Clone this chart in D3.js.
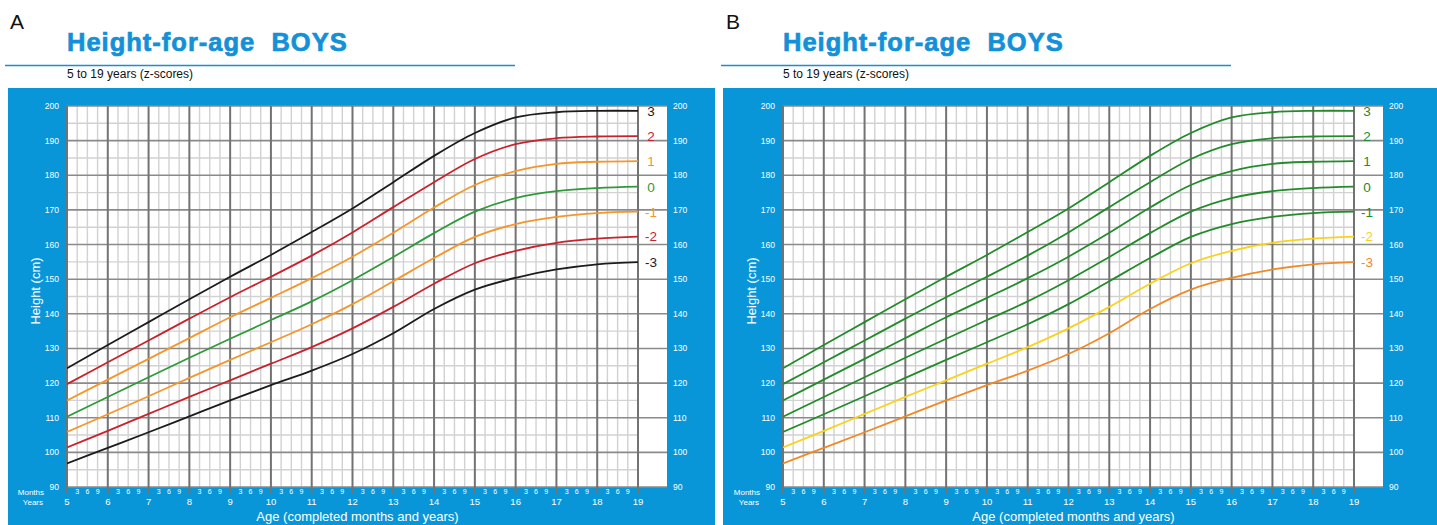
<!DOCTYPE html>
<html>
<head>
<meta charset="utf-8">
<script src="https://cdn.jsdelivr.net/npm/d3@7/dist/d3.min.js"></script>
<style>
  html, body { margin: 0; padding: 0; background: #ffffff; }
  svg { display: block; font-family: "Liberation Sans", Arial, Helvetica, sans-serif; }
  .title { white-space: pre; }
</style>
</head>
<body>
<svg id="chart" width="1437" height="525"></svg>
<script>
// WHO height-for-age, boys 5 to 19 years: height (cm) at each z-score curve
const ages = [5, 6, 7, 8, 9, 10, 11, 12, 13, 14, 15, 16, 17, 18, 19];
const zLabels = ["3", "2", "1", "0", "-1", "-2", "-3"];
const sdPlus3  = [124.3, 131.0, 137.6, 144.2, 150.7, 157.0, 163.6, 170.4, 178.0, 185.6, 192.2, 196.7, 198.2, 198.6, 198.6];
const sdPlus2  = [119.7, 126.0, 132.3, 138.6, 144.8, 150.7, 156.8, 163.5, 170.8, 178.0, 184.7, 189.0, 190.7, 191.2, 191.3];
const sdPlus1  = [115.0, 121.0, 127.0, 133.0, 139.0, 144.6, 150.3, 156.5, 163.4, 170.7, 177.2, 181.2, 183.3, 183.9, 184.1];
const median   = [110.3, 116.0, 121.7, 127.3, 132.8, 138.2, 143.6, 149.7, 156.4, 163.3, 169.5, 173.4, 175.4, 176.3, 176.7];
const sdMinus1 = [105.9, 111.0, 116.2, 121.5, 126.7, 131.8, 137.0, 142.8, 149.4, 156.1, 162.2, 165.9, 168.0, 169.1, 169.5];
const sdMinus2 = [101.4, 106.2, 111.1, 116.0, 120.8, 125.6, 130.4, 135.8, 142.0, 148.7, 154.6, 158.2, 160.5, 161.7, 162.3];
const sdMinus3 = [96.8, 101.3, 105.8, 110.4, 115.0, 119.4, 123.6, 128.4, 134.4, 141.4, 147.0, 150.4, 152.8, 154.3, 154.9];

// Axis ticks
const heightTicks = [90, 100, 110, 120, 130, 140, 150, 160, 170, 180, 190, 200];
const yearTicks = [5, 6, 7, 8, 9, 10, 11, 12, 13, 14, 15, 16, 17, 18, 19];
const monthTicks = [3, 6, 9];

// Curve colours for the two versions of the chart
const coloursA = ["#1c1c1c", "#c8232c", "#f4962a", "#2f9a3a", "#f4962a", "#c8232c", "#1c1c1c"];
const coloursB = ["#238b2b", "#238b2b", "#238b2b", "#238b2b", "#238b2b", "#f9d21c", "#f08a26"];

const curves = [sdPlus3, sdPlus2, sdPlus1, median, sdMinus1, sdMinus2, sdMinus3];

const BLUE = "#0996d8";
const TITLE_BLUE = "#1391d8";

const svg = d3.select("#chart");

const panels = [
  { letter: "A", ox: 0,   boxX0: 8,   boxX1: 715,  colours: coloursA },
  { letter: "B", ox: 716, boxX0: 723, boxX1: 1437, colours: coloursB }
];

const y = d3.scaleLinear().domain([90, 200]).range([487, 106]);

panels.forEach((p, pi) => {
  const g = svg.append("g");
  const x = d3.scaleLinear().domain([5, 19]).range([67 + p.ox, 638 + p.ox]);
  const x0 = x(5), x1 = x(19);
  const whiteRight = x1 + 29;

  // Panel letter, title, rule and subtitle
  g.append("text").attr("x", 10 + p.ox).attr("y", 29)
    .attr("font-size", 21).attr("fill", "#111").text(p.letter);
  g.append("text").attr("class", "title").attr("x", x0).attr("y", 51)
    .attr("font-size", 25.5).attr("font-weight", "bold")
    .attr("letter-spacing", 1.0).attr("fill", TITLE_BLUE)
    .attr("stroke", TITLE_BLUE).attr("stroke-width", 0.7)
    .text("Height-for-age  BOYS");
  g.append("line").attr("x1", 5 + p.ox).attr("x2", 515 + p.ox)
    .attr("y1", 65.5).attr("y2", 65.5)
    .attr("stroke", TITLE_BLUE).attr("stroke-width", 1.5);
  g.append("text").attr("x", x0).attr("y", 78)
    .attr("font-size", 12).attr("fill", "#111").text("5 to 19 years (z-scores)");

  // Blue frame and white plotting area
  g.append("rect").attr("x", p.boxX0).attr("y", 88)
    .attr("width", p.boxX1 - p.boxX0).attr("height", 525 - 88).attr("fill", BLUE);
  g.append("rect").attr("x", x0).attr("y", y(200))
    .attr("width", whiteRight - x0).attr("height", y(90) - y(200)).attr("fill", "#ffffff");

  // Minor grid: quarter years and 5 cm
  const quarters = d3.range(5, 19.001, 0.25).filter(v => Math.abs(v - Math.round(v)) > 1e-6);
  g.append("g").selectAll("line").data(quarters).join("line")
    .attr("x1", d => x(d)).attr("x2", d => x(d))
    .attr("y1", y(200)).attr("y2", y(90))
    .attr("stroke", "#d2d2d2").attr("stroke-width", 1.4);
  const fives = d3.range(95, 200, 10);
  g.append("g").selectAll("line").data(fives).join("line")
    .attr("x1", x0).attr("x2", x1)
    .attr("y1", d => y(d)).attr("y2", d => y(d))
    .attr("stroke", "#d2d2d2").attr("stroke-width", 1.4);

  // Major grid: 10 cm lines run into the label margin
  g.append("g").selectAll("line").data(heightTicks).join("line")
    .attr("x1", x0).attr("x2", whiteRight)
    .attr("y1", d => y(d)).attr("y2", d => y(d))
    .attr("stroke", "#8a8a8a").attr("stroke-width", 1.6);

  // Year lines extend below the axis as ticks
  g.append("g").selectAll("line").data(yearTicks).join("line")
    .attr("x1", d => x(d)).attr("x2", d => x(d))
    .attr("y1", y(200)).attr("y2", y(90) + 6)
    .attr("stroke", "#737373").attr("stroke-width", 2);

  // Z-score curves
  const clipId = "clip" + pi;
  g.append("clipPath").attr("id", clipId).append("rect")
    .attr("x", x0).attr("y", y(200)).attr("width", x1 - x0).attr("height", y(90) - y(200));
  const line = d3.line().x((d, i) => x(ages[i])).y(d => y(d)).curve(d3.curveCatmullRom.alpha(0.5));
  g.append("g").attr("clip-path", `url(#${clipId})`)
    .selectAll("path").data(curves).join("path")
    .attr("d", d => line(d))
    .attr("fill", "none")
    .attr("stroke", (d, i) => p.colours[i])
    .attr("stroke-width", 1.8);

  // Curve labels at the right end
  g.append("g").selectAll("text").data(curves).join("text")
    .attr("x", x1 + 13)
    .attr("y", d => y(d[d.length - 1]))
    .attr("dy", "0.36em")
    .attr("text-anchor", "middle")
    .attr("font-size", 13.5)
    .attr("fill", (d, i) => p.colours[i])
    .text((d, i) => zLabels[i]);

  // Height labels on both sides
  g.append("g").selectAll("text").data(heightTicks).join("text")
    .attr("x", x0 - 8).attr("y", d => y(d)).attr("dy", "0.35em")
    .attr("text-anchor", "end").attr("font-size", 8.5).attr("fill", "#fff")
    .text(d => d);
  g.append("g").selectAll("text").data(heightTicks).join("text")
    .attr("x", x1 + 35).attr("y", d => y(d)).attr("dy", "0.35em")
    .attr("text-anchor", "start").attr("font-size", 8.5).attr("fill", "#fff")
    .text(d => d);

  // Age axis: months and years
  g.append("text").attr("x", x0 - 23).attr("y", 492).attr("dy", "0.35em")
    .attr("text-anchor", "end").attr("font-size", 8).attr("fill", "#fff").text("Months");
  g.append("text").attr("x", x0 - 24).attr("y", 502).attr("dy", "0.35em")
    .attr("text-anchor", "end").attr("font-size", 8).attr("fill", "#fff").text("Years");
  const monthPos = [];
  yearTicks.slice(0, -1).forEach(yr => monthTicks.forEach(m => monthPos.push({ yr, m })));
  g.append("g").selectAll("text").data(monthPos).join("text")
    .attr("x", d => x(d.yr + d.m / 12)).attr("y", 492).attr("dy", "0.35em")
    .attr("text-anchor", "middle").attr("font-size", 7).attr("fill", "#fff")
    .text(d => d.m);
  g.append("g").selectAll("text").data(yearTicks).join("text")
    .attr("x", d => x(d)).attr("y", 502).attr("dy", "0.35em")
    .attr("text-anchor", "middle").attr("font-size", 9.5).attr("fill", "#fff")
    .text(d => d);

  // Axis titles
  g.append("text").attr("x", (x0 + x1) / 2 + 5).attr("y", 516).attr("dy", "0.35em")
    .attr("text-anchor", "middle").attr("font-size", 13).attr("fill", "#fff")
    .text("Age (completed months and years)");
  g.append("text")
    .attr("transform", `translate(${35 + p.ox},291) rotate(-90)`)
    .attr("dy", "0.35em")
    .attr("text-anchor", "middle").attr("font-size", 13).attr("fill", "#fff")
    .text("Height (cm)");
});
</script>
</body>
</html>
